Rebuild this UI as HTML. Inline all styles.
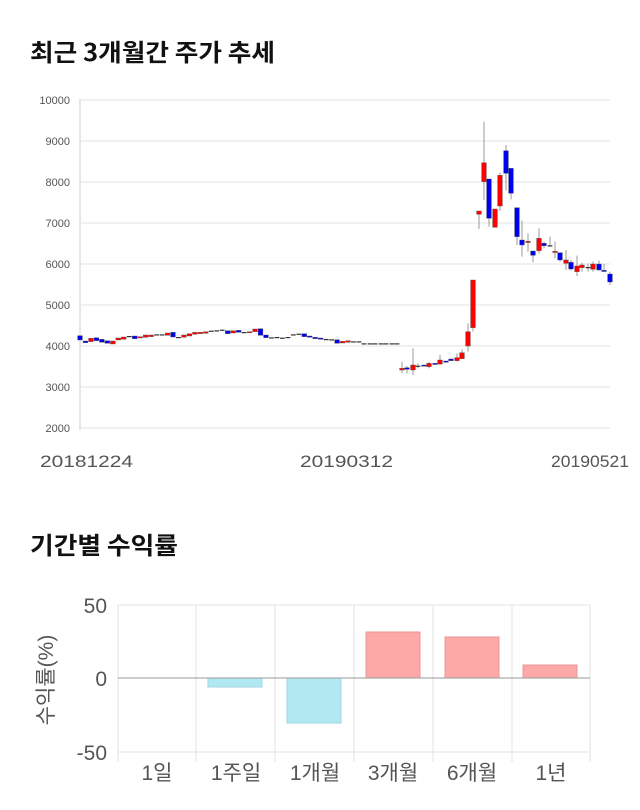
<!DOCTYPE html>
<html><head><meta charset="utf-8"><style>
body{margin:0;background:#fff;width:640px;height:810px;overflow:hidden;font-family:"Liberation Sans","Noto Sans CJK KR",sans-serif}
svg{position:absolute;left:0;top:0}
</style></head><body>
<svg id="s" width="640" height="810" xmlns="http://www.w3.org/2000/svg" font-family="Liberation Sans, Noto Sans CJK KR, sans-serif">
<text x="30" y="61" font-size="24" font-weight="bold" fill="#111" font-family="Noto Sans CJK KR, sans-serif" textLength="245" lengthAdjust="spacingAndGlyphs">최근 3개월간 주가 추세</text>
<text x="30" y="554" font-size="24" font-weight="bold" fill="#111" font-family="Noto Sans CJK KR, sans-serif" textLength="148" lengthAdjust="spacingAndGlyphs">기간별 수익률</text>
<g id="grid"></g>
<line x1="80" y1="99" x2="80" y2="430" stroke="#e6e6e6" stroke-width="2"/>
<g id="candles"></g>
<text x="40" y="467" font-size="17" fill="#555" textLength="93" lengthAdjust="spacingAndGlyphs">20181224</text>
<text x="300" y="467" font-size="17" fill="#555" textLength="93" lengthAdjust="spacingAndGlyphs">20190312</text>
<text x="551" y="467" font-size="17" fill="#555" textLength="78" lengthAdjust="spacingAndGlyphs">20190521</text>

<g stroke="#e3e3e3" stroke-width="1">
<line x1="118" y1="605" x2="590" y2="605"/>
<line x1="118" y1="752" x2="590" y2="752"/>
<line x1="118" y1="605" x2="118" y2="762"/>
<line x1="196" y1="605" x2="196" y2="762"/>
<line x1="275" y1="605" x2="275" y2="762"/>
<line x1="354" y1="605" x2="354" y2="762"/>
<line x1="433" y1="605" x2="433" y2="762"/>
<line x1="512" y1="605" x2="512" y2="762"/>
<line x1="590" y1="605" x2="590" y2="762"/>
</g>
<g stroke-width="1">
<rect x="208" y="678" width="54" height="9" fill="#b1e9f3" stroke="#9fd6e2"/>
<rect x="287" y="678" width="54" height="45" fill="#b1e9f3" stroke="#9fd6e2"/>
<rect x="366" y="632" width="54" height="46" fill="#fda9a8" stroke="#e89796"/>
<rect x="445" y="637" width="54" height="41" fill="#fda9a8" stroke="#e89796"/>
<rect x="523" y="665" width="54" height="13" fill="#fda9a8" stroke="#e89796"/>
</g>
<line x1="118" y1="678" x2="590" y2="678" stroke="#999" stroke-width="1"/>
<g font-size="21" fill="#555" text-anchor="end">
<text x="107" y="613">50</text><text x="107" y="686">0</text><text x="107" y="760">-50</text>
</g>
<g font-size="21" fill="#555" text-anchor="middle">
<text x="157" y="780">1일</text><text x="236" y="780">1주일</text><text x="315" y="780">1개월</text>
<text x="393" y="780">3개월</text><text x="472" y="780">6개월</text><text x="551" y="780">1년</text>
</g>
<text transform="translate(53,680) rotate(-90)" font-size="21" fill="#555" text-anchor="middle">수익률(%)</text>
</svg>
<script>
var NS="http://www.w3.org/2000/svg";
function el(p,t,a){var e=document.createElementNS(NS,t);for(var k in a)e.setAttribute(k,a[k]);p.appendChild(e);return e;}
var g=document.getElementById('grid');
for(var v=2000;v<=10000;v+=1000){var y=428-(v-2000)*0.041;
el(g,'line',{x1:80,y1:y,x2:610,y2:y,stroke:'#e3e3e3','stroke-width':1});
var t=el(g,'text',{x:70,y:y+4,'font-size':11,fill:'#555','text-anchor':'end'});t.textContent=v;}
var c=document.getElementById('candles');
var d1=[[737,750,'b'],[753,758,'b'],[745,755,'r'],[743,752,'b'],[748,757,'b'],[752,760,'b'],[753,762,'r'],[744,750,'r'],[741,748,'r'],[738,738,'k'],[738,746,'b'],[740,744,'r'],[735,742,'r'],[735,740,'r'],[733,733,'k'],[733,733,'k'],[729,736,'r'],[727,741,'b'],[741,741,'k'],[735,742,'r'],[731,738,'r'],[727,733,'r'],[727,731,'r'],[725,730,'r'],[722,722,'k'],[721,721,'k'],[719,719,'k'],[722,731,'b'],[722,729,'r'],[721,727,'b'],[726,726,'k'],[725,727,'r'],[717,725,'r'],[716,736,'b'],[735,743,'b'],[742,742,'k'],[741,741,'k'],[743,743,'k'],[741,741,'k'],[733,733,'k'],[731,731,'k'],[731,740,'b'],[738,742,'b'],[742,746,'b'],[744,748,'b'],[747,747,'k'],[748,748,'k'],[749,760,'b'],[754,759,'r'],[752,757,'r'],[754,754,'k'],[754,754,'k']];
function candle(x,y1,y2,col,wt,wb){
 if(wt!==undefined) el(c,'line',{x1:x,y1:wt,x2:x,y2:wb,stroke:'#999','stroke-width':1});
 var fill=col=='r'?'#f00':col=='b'?'#0000f0':'#333';
 var h=Math.max(y2-y1,1.2);
 el(c,'rect',{x:x-2.4,y:y1,width:4.8,height:h,fill:fill,stroke:col=='k'?'none':'#555','stroke-width':0.4});
}
d1.forEach(function(a,i){var x=80+i*5.47;candle(x,90+a[0]/3,90+a[1]/3,a[2]);});
[364,370,375,381,386,392,397].forEach(function(x){candle(x,343.3,343.3,'k');});
var d2=[[402,805,810,'r',785,820],[407,803,808,'b',798,820],[413,795,810,'r',745,825],[418,797,799,'k',790,805],[424,795,798,'b'],[429,790,800,'r',785,805],[435,790,793,'b'],[440,780,792,'r',765,795],[446,783,787,'b'],[451,777,782,'b'],[457,773,782,'r',760,785],[462,758,776,'r',748,778],[468,695,738,'r',670,755],[473,540,683,'r',540,695],[479,333,343,'r',333,387],[484,188,245,'r',65,300],[489,237,355,'b',237,380],[495,327,382,'r'],[500,226,318,'r',218,333],[506,152,220,'b',135,272],[511,205,280,'b',205,298],[517,323,410,'b',323,435],[522,420,435,'b',362,470],[528,424,427,'r',400,455],[533,453,466,'b',453,487],[539,415,452,'r',385,460],[544,430,437,'b',425,445],[550,436,438,'k',410,440],[555,454,457,'r',425,475],[560,458,480,'b',458,485],[566,480,490,'r',450,510],[571,487,507,'b',480,512],[577,498,515,'r',467,528],[582,495,503,'r',488,515],[588,501,503,'k',490,515],[593,492,508,'r',485,515],[599,492,510,'b',482,512],[604,511,514,'b',492,515],[610,522,546,'b',515,555]];
d2.forEach(function(a){var wt=a[4]!==undefined?100+a[4]/3:undefined,wb=a[5]!==undefined?100+a[5]/3:undefined;candle(a[0],100+a[1]/3,100+a[2]/3,a[3],wt,wb);});
</script>
</body></html>
